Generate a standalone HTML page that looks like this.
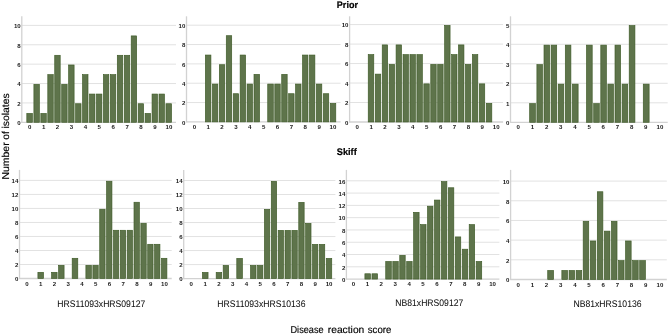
<!DOCTYPE html>
<html><head><meta charset="utf-8"><style>
html,body{margin:0;padding:0;background:#fff;}
svg{display:block;filter:blur(0.35px);}
text{font-family:"Liberation Sans",sans-serif;fill:#1a1a1a;text-rendering:geometricPrecision;}
.yt{text-rendering:auto;font-size:6.1px;text-anchor:end;font-weight:bold;}
.xt{text-rendering:auto;font-size:6.1px;text-anchor:middle;font-weight:bold;}
.lab{font-size:9.6px;fill:#111;stroke:#111;stroke-width:0.05px;}
.ttl{font-size:9.5px;font-weight:bold;stroke:#000;stroke-width:0.2px;fill:#000;}
.ax{font-size:10px;fill:#000;stroke:#000;stroke-width:0.15px;}
</style></head><body>
<svg width="669" height="334" viewBox="0 0 669 334">
<rect width="669" height="334" fill="#fff"/>
<text x="20.7" y="125.1" class="yt">0</text>
<line x1="21.7" y1="102.92" x2="176" y2="102.92" stroke="#e2e2e2" stroke-width="1"/>
<text x="20.7" y="105.72" class="yt">2</text>
<line x1="21.7" y1="83.54" x2="176" y2="83.54" stroke="#e2e2e2" stroke-width="1"/>
<text x="20.7" y="86.34" class="yt">4</text>
<line x1="21.7" y1="64.16" x2="176" y2="64.16" stroke="#e2e2e2" stroke-width="1"/>
<text x="20.7" y="66.96" class="yt">6</text>
<line x1="21.7" y1="44.78" x2="176" y2="44.78" stroke="#e2e2e2" stroke-width="1"/>
<text x="20.7" y="47.58" class="yt">8</text>
<line x1="21.7" y1="25.4" x2="176" y2="25.4" stroke="#e2e2e2" stroke-width="1"/>
<text x="20.7" y="28.2" class="yt">10</text>
<line x1="21.7" y1="122.3" x2="176" y2="122.3" stroke="#d2d2d2" stroke-width="1.3"/>
<line x1="21.8" y1="16.3" x2="21.8" y2="122.9" stroke="#d2d2d2" stroke-width="1.3"/>
<rect x="26.82" y="113.44" width="5.58" height="8.84" fill="#5e744b" stroke="#3d5a26" stroke-width="0.65"/>
<rect x="33.9" y="84.36" width="5.45" height="37.91" fill="#5e744b" stroke="#3d5a26" stroke-width="0.65"/>
<rect x="40.84" y="113.44" width="5.45" height="8.84" fill="#5e744b" stroke="#3d5a26" stroke-width="0.65"/>
<rect x="47.8" y="74.67" width="5.45" height="47.6" fill="#5e744b" stroke="#3d5a26" stroke-width="0.65"/>
<rect x="54.74" y="55.29" width="5.45" height="66.98" fill="#5e744b" stroke="#3d5a26" stroke-width="0.65"/>
<rect x="61.7" y="84.36" width="5.45" height="37.91" fill="#5e744b" stroke="#3d5a26" stroke-width="0.65"/>
<rect x="68.65" y="64.98" width="5.45" height="57.29" fill="#5e744b" stroke="#3d5a26" stroke-width="0.65"/>
<rect x="75.59" y="103.74" width="5.45" height="18.53" fill="#5e744b" stroke="#3d5a26" stroke-width="0.65"/>
<rect x="82.55" y="74.67" width="5.45" height="47.6" fill="#5e744b" stroke="#3d5a26" stroke-width="0.65"/>
<rect x="89.5" y="94.05" width="5.45" height="28.22" fill="#5e744b" stroke="#3d5a26" stroke-width="0.65"/>
<rect x="96.45" y="94.05" width="5.45" height="28.22" fill="#5e744b" stroke="#3d5a26" stroke-width="0.65"/>
<rect x="103.4" y="74.67" width="5.45" height="47.6" fill="#5e744b" stroke="#3d5a26" stroke-width="0.65"/>
<rect x="110.35" y="74.67" width="5.45" height="47.6" fill="#5e744b" stroke="#3d5a26" stroke-width="0.65"/>
<rect x="117.3" y="55.29" width="5.45" height="66.98" fill="#5e744b" stroke="#3d5a26" stroke-width="0.65"/>
<rect x="124.25" y="55.29" width="5.45" height="66.98" fill="#5e744b" stroke="#3d5a26" stroke-width="0.65"/>
<rect x="131.2" y="35.91" width="5.45" height="86.36" fill="#5e744b" stroke="#3d5a26" stroke-width="0.65"/>
<rect x="138.15" y="103.74" width="5.45" height="18.53" fill="#5e744b" stroke="#3d5a26" stroke-width="0.65"/>
<rect x="145.09" y="113.44" width="5.45" height="8.84" fill="#5e744b" stroke="#3d5a26" stroke-width="0.65"/>
<rect x="152.05" y="94.05" width="5.45" height="28.22" fill="#5e744b" stroke="#3d5a26" stroke-width="0.65"/>
<rect x="159" y="94.05" width="5.45" height="28.22" fill="#5e744b" stroke="#3d5a26" stroke-width="0.65"/>
<rect x="165.95" y="103.74" width="5.58" height="18.53" fill="#5e744b" stroke="#3d5a26" stroke-width="0.65"/>
<text x="29.7" y="129.3" class="xt">0</text>
<text x="43.62" y="129.3" class="xt">1</text>
<text x="57.54" y="129.3" class="xt">2</text>
<text x="71.46" y="129.3" class="xt">3</text>
<text x="85.38" y="129.3" class="xt">4</text>
<text x="99.3" y="129.3" class="xt">5</text>
<text x="113.22" y="129.3" class="xt">6</text>
<text x="127.14" y="129.3" class="xt">7</text>
<text x="141.06" y="129.3" class="xt">8</text>
<text x="154.98" y="129.3" class="xt">9</text>
<text x="168.9" y="129.3" class="xt">10</text>
<text x="185.4" y="124.7" class="yt">0</text>
<line x1="186.4" y1="102.56" x2="340.6" y2="102.56" stroke="#e2e2e2" stroke-width="1"/>
<text x="185.4" y="105.36" class="yt">2</text>
<line x1="186.4" y1="83.22" x2="340.6" y2="83.22" stroke="#e2e2e2" stroke-width="1"/>
<text x="185.4" y="86.02" class="yt">4</text>
<line x1="186.4" y1="63.88" x2="340.6" y2="63.88" stroke="#e2e2e2" stroke-width="1"/>
<text x="185.4" y="66.68" class="yt">6</text>
<line x1="186.4" y1="44.54" x2="340.6" y2="44.54" stroke="#e2e2e2" stroke-width="1"/>
<text x="185.4" y="47.34" class="yt">8</text>
<line x1="186.4" y1="25.2" x2="340.6" y2="25.2" stroke="#e2e2e2" stroke-width="1"/>
<text x="185.4" y="28" class="yt">10</text>
<line x1="186.4" y1="121.9" x2="340.6" y2="121.9" stroke="#d2d2d2" stroke-width="1.3"/>
<line x1="186.5" y1="16.3" x2="186.5" y2="122.5" stroke="#d2d2d2" stroke-width="1.3"/>
<rect x="205.37" y="55.04" width="5.55" height="66.84" fill="#5e744b" stroke="#3d5a26" stroke-width="0.65"/>
<rect x="212.42" y="84.05" width="5.43" height="37.83" fill="#5e744b" stroke="#3d5a26" stroke-width="0.65"/>
<rect x="219.35" y="64.71" width="5.43" height="57.17" fill="#5e744b" stroke="#3d5a26" stroke-width="0.65"/>
<rect x="226.28" y="35.7" width="5.43" height="86.18" fill="#5e744b" stroke="#3d5a26" stroke-width="0.65"/>
<rect x="233.22" y="93.72" width="5.43" height="28.16" fill="#5e744b" stroke="#3d5a26" stroke-width="0.65"/>
<rect x="240.14" y="55.04" width="5.43" height="66.84" fill="#5e744b" stroke="#3d5a26" stroke-width="0.65"/>
<rect x="247.07" y="84.05" width="5.43" height="37.83" fill="#5e744b" stroke="#3d5a26" stroke-width="0.65"/>
<rect x="254" y="74.38" width="5.55" height="47.5" fill="#5e744b" stroke="#3d5a26" stroke-width="0.65"/>
<rect x="267.74" y="84.05" width="5.55" height="37.83" fill="#5e744b" stroke="#3d5a26" stroke-width="0.65"/>
<rect x="274.8" y="84.05" width="5.43" height="37.83" fill="#5e744b" stroke="#3d5a26" stroke-width="0.65"/>
<rect x="281.73" y="74.38" width="5.43" height="47.5" fill="#5e744b" stroke="#3d5a26" stroke-width="0.65"/>
<rect x="288.66" y="93.72" width="5.43" height="28.16" fill="#5e744b" stroke="#3d5a26" stroke-width="0.65"/>
<rect x="295.58" y="84.05" width="5.43" height="37.83" fill="#5e744b" stroke="#3d5a26" stroke-width="0.65"/>
<rect x="302.52" y="55.04" width="5.43" height="66.84" fill="#5e744b" stroke="#3d5a26" stroke-width="0.65"/>
<rect x="309.44" y="55.04" width="5.43" height="66.84" fill="#5e744b" stroke="#3d5a26" stroke-width="0.65"/>
<rect x="316.38" y="84.05" width="5.43" height="37.83" fill="#5e744b" stroke="#3d5a26" stroke-width="0.65"/>
<rect x="323.31" y="93.72" width="5.43" height="28.16" fill="#5e744b" stroke="#3d5a26" stroke-width="0.65"/>
<rect x="330.24" y="103.39" width="5.55" height="18.49" fill="#5e744b" stroke="#3d5a26" stroke-width="0.65"/>
<text x="194.35" y="128.9" class="xt">0</text>
<text x="208.21" y="128.9" class="xt">1</text>
<text x="222.07" y="128.9" class="xt">2</text>
<text x="235.93" y="128.9" class="xt">3</text>
<text x="249.79" y="128.9" class="xt">4</text>
<text x="263.65" y="128.9" class="xt">5</text>
<text x="277.51" y="128.9" class="xt">6</text>
<text x="291.37" y="128.9" class="xt">7</text>
<text x="305.23" y="128.9" class="xt">8</text>
<text x="319.09" y="128.9" class="xt">9</text>
<text x="332.95" y="128.9" class="xt">10</text>
<text x="348.5" y="124.8" class="yt">0</text>
<line x1="349.5" y1="102.52" x2="503.1" y2="102.52" stroke="#e2e2e2" stroke-width="1"/>
<text x="348.5" y="105.32" class="yt">2</text>
<line x1="349.5" y1="83.04" x2="503.1" y2="83.04" stroke="#e2e2e2" stroke-width="1"/>
<text x="348.5" y="85.84" class="yt">4</text>
<line x1="349.5" y1="63.56" x2="503.1" y2="63.56" stroke="#e2e2e2" stroke-width="1"/>
<text x="348.5" y="66.36" class="yt">6</text>
<line x1="349.5" y1="44.08" x2="503.1" y2="44.08" stroke="#e2e2e2" stroke-width="1"/>
<text x="348.5" y="46.88" class="yt">8</text>
<line x1="349.5" y1="24.6" x2="503.1" y2="24.6" stroke="#e2e2e2" stroke-width="1"/>
<text x="348.5" y="27.4" class="yt">10</text>
<line x1="349.5" y1="122" x2="503.1" y2="122" stroke="#d2d2d2" stroke-width="1.3"/>
<line x1="349.6" y1="16.3" x2="349.6" y2="122.6" stroke="#d2d2d2" stroke-width="1.3"/>
<rect x="368.23" y="54.64" width="5.56" height="67.33" fill="#5e744b" stroke="#3d5a26" stroke-width="0.65"/>
<rect x="375.29" y="74.12" width="5.43" height="47.85" fill="#5e744b" stroke="#3d5a26" stroke-width="0.65"/>
<rect x="382.22" y="44.91" width="5.43" height="77.07" fill="#5e744b" stroke="#3d5a26" stroke-width="0.65"/>
<rect x="389.16" y="64.39" width="5.43" height="57.59" fill="#5e744b" stroke="#3d5a26" stroke-width="0.65"/>
<rect x="396.09" y="44.91" width="5.43" height="77.07" fill="#5e744b" stroke="#3d5a26" stroke-width="0.65"/>
<rect x="403.03" y="54.64" width="5.43" height="67.33" fill="#5e744b" stroke="#3d5a26" stroke-width="0.65"/>
<rect x="409.96" y="54.64" width="5.43" height="67.33" fill="#5e744b" stroke="#3d5a26" stroke-width="0.65"/>
<rect x="416.9" y="54.64" width="5.43" height="67.33" fill="#5e744b" stroke="#3d5a26" stroke-width="0.65"/>
<rect x="423.83" y="83.86" width="5.43" height="38.11" fill="#5e744b" stroke="#3d5a26" stroke-width="0.65"/>
<rect x="430.77" y="64.39" width="5.43" height="57.59" fill="#5e744b" stroke="#3d5a26" stroke-width="0.65"/>
<rect x="437.7" y="64.39" width="5.43" height="57.59" fill="#5e744b" stroke="#3d5a26" stroke-width="0.65"/>
<rect x="444.64" y="25.42" width="5.43" height="96.55" fill="#5e744b" stroke="#3d5a26" stroke-width="0.65"/>
<rect x="451.57" y="54.64" width="5.43" height="67.33" fill="#5e744b" stroke="#3d5a26" stroke-width="0.65"/>
<rect x="458.51" y="44.91" width="5.43" height="77.07" fill="#5e744b" stroke="#3d5a26" stroke-width="0.65"/>
<rect x="465.44" y="64.39" width="5.43" height="57.59" fill="#5e744b" stroke="#3d5a26" stroke-width="0.65"/>
<rect x="472.38" y="54.64" width="5.43" height="67.33" fill="#5e744b" stroke="#3d5a26" stroke-width="0.65"/>
<rect x="479.31" y="83.86" width="5.43" height="38.11" fill="#5e744b" stroke="#3d5a26" stroke-width="0.65"/>
<rect x="486.25" y="103.34" width="5.56" height="18.63" fill="#5e744b" stroke="#3d5a26" stroke-width="0.65"/>
<text x="357.2" y="129" class="xt">0</text>
<text x="371.1" y="129" class="xt">1</text>
<text x="385" y="129" class="xt">2</text>
<text x="398.9" y="129" class="xt">3</text>
<text x="412.8" y="129" class="xt">4</text>
<text x="426.7" y="129" class="xt">5</text>
<text x="440.6" y="129" class="xt">6</text>
<text x="454.5" y="129" class="xt">7</text>
<text x="468.4" y="129" class="xt">8</text>
<text x="482.3" y="129" class="xt">9</text>
<text x="496.2" y="129" class="xt">10</text>
<text x="509.4" y="125.1" class="yt">0</text>
<line x1="510.4" y1="102.8" x2="667.7" y2="102.8" stroke="#e2e2e2" stroke-width="1"/>
<text x="509.4" y="105.6" class="yt">1</text>
<line x1="510.4" y1="83.3" x2="667.7" y2="83.3" stroke="#e2e2e2" stroke-width="1"/>
<text x="509.4" y="86.1" class="yt">2</text>
<line x1="510.4" y1="63.8" x2="667.7" y2="63.8" stroke="#e2e2e2" stroke-width="1"/>
<text x="509.4" y="66.6" class="yt">3</text>
<line x1="510.4" y1="44.3" x2="667.7" y2="44.3" stroke="#e2e2e2" stroke-width="1"/>
<text x="509.4" y="47.1" class="yt">4</text>
<line x1="510.4" y1="24.8" x2="667.7" y2="24.8" stroke="#e2e2e2" stroke-width="1"/>
<text x="509.4" y="27.6" class="yt">5</text>
<line x1="510.4" y1="122.3" x2="667.7" y2="122.3" stroke="#d2d2d2" stroke-width="1.3"/>
<line x1="510.5" y1="16.3" x2="510.5" y2="122.9" stroke="#d2d2d2" stroke-width="1.3"/>
<rect x="529.68" y="103.62" width="5.72" height="18.65" fill="#5e744b" stroke="#3d5a26" stroke-width="0.65"/>
<rect x="536.9" y="64.62" width="5.6" height="57.65" fill="#5e744b" stroke="#3d5a26" stroke-width="0.65"/>
<rect x="544" y="45.12" width="5.6" height="77.15" fill="#5e744b" stroke="#3d5a26" stroke-width="0.65"/>
<rect x="551.1" y="45.12" width="5.6" height="77.15" fill="#5e744b" stroke="#3d5a26" stroke-width="0.65"/>
<rect x="558.2" y="84.12" width="5.6" height="38.15" fill="#5e744b" stroke="#3d5a26" stroke-width="0.65"/>
<rect x="565.3" y="45.12" width="5.6" height="77.15" fill="#5e744b" stroke="#3d5a26" stroke-width="0.65"/>
<rect x="572.4" y="84.12" width="5.72" height="38.15" fill="#5e744b" stroke="#3d5a26" stroke-width="0.65"/>
<rect x="586.48" y="45.12" width="5.72" height="77.15" fill="#5e744b" stroke="#3d5a26" stroke-width="0.65"/>
<rect x="593.7" y="103.62" width="5.6" height="18.65" fill="#5e744b" stroke="#3d5a26" stroke-width="0.65"/>
<rect x="600.8" y="45.12" width="5.6" height="77.15" fill="#5e744b" stroke="#3d5a26" stroke-width="0.65"/>
<rect x="607.9" y="84.12" width="5.6" height="38.15" fill="#5e744b" stroke="#3d5a26" stroke-width="0.65"/>
<rect x="615" y="45.12" width="5.6" height="77.15" fill="#5e744b" stroke="#3d5a26" stroke-width="0.65"/>
<rect x="622.1" y="84.12" width="5.6" height="38.15" fill="#5e744b" stroke="#3d5a26" stroke-width="0.65"/>
<rect x="629.2" y="25.62" width="5.72" height="96.65" fill="#5e744b" stroke="#3d5a26" stroke-width="0.65"/>
<rect x="643.27" y="84.12" width="5.85" height="38.15" fill="#5e744b" stroke="#3d5a26" stroke-width="0.65"/>
<text x="518.3" y="129.3" class="xt">0</text>
<text x="532.46" y="129.3" class="xt">1</text>
<text x="546.62" y="129.3" class="xt">2</text>
<text x="560.78" y="129.3" class="xt">3</text>
<text x="574.94" y="129.3" class="xt">4</text>
<text x="589.1" y="129.3" class="xt">5</text>
<text x="603.26" y="129.3" class="xt">6</text>
<text x="617.42" y="129.3" class="xt">7</text>
<text x="631.58" y="129.3" class="xt">8</text>
<text x="645.74" y="129.3" class="xt">9</text>
<text x="659.9" y="129.3" class="xt">10</text>
<text x="18.4" y="281.3" class="yt">0</text>
<line x1="19.4" y1="264.49" x2="171.7" y2="264.49" stroke="#e2e2e2" stroke-width="1"/>
<text x="18.4" y="267.29" class="yt">2</text>
<line x1="19.4" y1="250.47" x2="171.7" y2="250.47" stroke="#e2e2e2" stroke-width="1"/>
<text x="18.4" y="253.27" class="yt">4</text>
<line x1="19.4" y1="236.46" x2="171.7" y2="236.46" stroke="#e2e2e2" stroke-width="1"/>
<text x="18.4" y="239.26" class="yt">6</text>
<line x1="19.4" y1="222.44" x2="171.7" y2="222.44" stroke="#e2e2e2" stroke-width="1"/>
<text x="18.4" y="225.24" class="yt">8</text>
<line x1="19.4" y1="208.43" x2="171.7" y2="208.43" stroke="#e2e2e2" stroke-width="1"/>
<text x="18.4" y="211.23" class="yt">10</text>
<line x1="19.4" y1="194.41" x2="171.7" y2="194.41" stroke="#e2e2e2" stroke-width="1"/>
<text x="18.4" y="197.21" class="yt">12</text>
<line x1="19.4" y1="180.4" x2="171.7" y2="180.4" stroke="#e2e2e2" stroke-width="1"/>
<text x="18.4" y="183.2" class="yt">14</text>
<line x1="19.4" y1="278.5" x2="171.7" y2="278.5" stroke="#d2d2d2" stroke-width="1.3"/>
<line x1="19.5" y1="169.9" x2="19.5" y2="279.1" stroke="#d2d2d2" stroke-width="1.3"/>
<rect x="37.91" y="272.32" width="5.61" height="6.16" fill="#5e744b" stroke="#3d5a26" stroke-width="0.65"/>
<rect x="51.62" y="272.32" width="5.48" height="6.16" fill="#5e744b" stroke="#3d5a26" stroke-width="0.65"/>
<rect x="58.6" y="265.31" width="5.48" height="13.16" fill="#5e744b" stroke="#3d5a26" stroke-width="0.65"/>
<rect x="72.18" y="258.3" width="5.61" height="20.17" fill="#5e744b" stroke="#3d5a26" stroke-width="0.65"/>
<rect x="85.89" y="265.31" width="5.48" height="13.16" fill="#5e744b" stroke="#3d5a26" stroke-width="0.65"/>
<rect x="92.87" y="265.31" width="5.36" height="13.16" fill="#5e744b" stroke="#3d5a26" stroke-width="0.65"/>
<rect x="99.73" y="209.25" width="5.36" height="69.22" fill="#5e744b" stroke="#3d5a26" stroke-width="0.65"/>
<rect x="106.58" y="181.22" width="5.36" height="97.25" fill="#5e744b" stroke="#3d5a26" stroke-width="0.65"/>
<rect x="113.44" y="230.27" width="5.36" height="48.2" fill="#5e744b" stroke="#3d5a26" stroke-width="0.65"/>
<rect x="120.29" y="230.27" width="5.36" height="48.2" fill="#5e744b" stroke="#3d5a26" stroke-width="0.65"/>
<rect x="127.15" y="230.27" width="5.36" height="48.2" fill="#5e744b" stroke="#3d5a26" stroke-width="0.65"/>
<rect x="134" y="202.25" width="5.36" height="76.23" fill="#5e744b" stroke="#3d5a26" stroke-width="0.65"/>
<rect x="140.86" y="223.27" width="5.36" height="55.21" fill="#5e744b" stroke="#3d5a26" stroke-width="0.65"/>
<rect x="147.71" y="244.29" width="5.36" height="34.19" fill="#5e744b" stroke="#3d5a26" stroke-width="0.65"/>
<rect x="154.57" y="244.29" width="5.36" height="34.19" fill="#5e744b" stroke="#3d5a26" stroke-width="0.65"/>
<rect x="161.42" y="258.3" width="5.48" height="20.17" fill="#5e744b" stroke="#3d5a26" stroke-width="0.65"/>
<text x="26.9" y="285.5" class="xt">0</text>
<text x="40.65" y="285.5" class="xt">1</text>
<text x="54.4" y="285.5" class="xt">2</text>
<text x="68.15" y="285.5" class="xt">3</text>
<text x="81.9" y="285.5" class="xt">4</text>
<text x="95.65" y="285.5" class="xt">5</text>
<text x="109.4" y="285.5" class="xt">6</text>
<text x="123.15" y="285.5" class="xt">7</text>
<text x="136.9" y="285.5" class="xt">8</text>
<text x="150.65" y="285.5" class="xt">9</text>
<text x="164.4" y="285.5" class="xt">10</text>
<text x="182.6" y="281.4" class="yt">0</text>
<line x1="183.6" y1="264.59" x2="335.4" y2="264.59" stroke="#e2e2e2" stroke-width="1"/>
<text x="182.6" y="267.39" class="yt">2</text>
<line x1="183.6" y1="250.57" x2="335.4" y2="250.57" stroke="#e2e2e2" stroke-width="1"/>
<text x="182.6" y="253.37" class="yt">4</text>
<line x1="183.6" y1="236.56" x2="335.4" y2="236.56" stroke="#e2e2e2" stroke-width="1"/>
<text x="182.6" y="239.36" class="yt">6</text>
<line x1="183.6" y1="222.54" x2="335.4" y2="222.54" stroke="#e2e2e2" stroke-width="1"/>
<text x="182.6" y="225.34" class="yt">8</text>
<line x1="183.6" y1="208.53" x2="335.4" y2="208.53" stroke="#e2e2e2" stroke-width="1"/>
<text x="182.6" y="211.33" class="yt">10</text>
<line x1="183.6" y1="194.51" x2="335.4" y2="194.51" stroke="#e2e2e2" stroke-width="1"/>
<text x="182.6" y="197.31" class="yt">12</text>
<line x1="183.6" y1="180.5" x2="335.4" y2="180.5" stroke="#e2e2e2" stroke-width="1"/>
<text x="182.6" y="183.3" class="yt">14</text>
<line x1="183.6" y1="278.6" x2="335.4" y2="278.6" stroke="#d2d2d2" stroke-width="1.3"/>
<line x1="183.7" y1="169.9" x2="183.7" y2="279.2" stroke="#d2d2d2" stroke-width="1.3"/>
<rect x="202.43" y="272.42" width="5.62" height="6.16" fill="#5e744b" stroke="#3d5a26" stroke-width="0.65"/>
<rect x="216.18" y="272.42" width="5.5" height="6.16" fill="#5e744b" stroke="#3d5a26" stroke-width="0.65"/>
<rect x="223.17" y="265.41" width="5.5" height="13.16" fill="#5e744b" stroke="#3d5a26" stroke-width="0.65"/>
<rect x="236.79" y="258.4" width="5.62" height="20.17" fill="#5e744b" stroke="#3d5a26" stroke-width="0.65"/>
<rect x="250.54" y="265.41" width="5.5" height="13.16" fill="#5e744b" stroke="#3d5a26" stroke-width="0.65"/>
<rect x="257.53" y="265.41" width="5.37" height="13.16" fill="#5e744b" stroke="#3d5a26" stroke-width="0.65"/>
<rect x="264.41" y="209.35" width="5.37" height="69.22" fill="#5e744b" stroke="#3d5a26" stroke-width="0.65"/>
<rect x="271.28" y="181.32" width="5.37" height="97.25" fill="#5e744b" stroke="#3d5a26" stroke-width="0.65"/>
<rect x="278.15" y="230.38" width="5.37" height="48.2" fill="#5e744b" stroke="#3d5a26" stroke-width="0.65"/>
<rect x="285.02" y="230.38" width="5.37" height="48.2" fill="#5e744b" stroke="#3d5a26" stroke-width="0.65"/>
<rect x="291.89" y="230.38" width="5.37" height="48.2" fill="#5e744b" stroke="#3d5a26" stroke-width="0.65"/>
<rect x="298.77" y="202.35" width="5.37" height="76.23" fill="#5e744b" stroke="#3d5a26" stroke-width="0.65"/>
<rect x="305.64" y="223.37" width="5.37" height="55.21" fill="#5e744b" stroke="#3d5a26" stroke-width="0.65"/>
<rect x="312.51" y="244.39" width="5.37" height="34.19" fill="#5e744b" stroke="#3d5a26" stroke-width="0.65"/>
<rect x="319.38" y="244.39" width="5.37" height="34.19" fill="#5e744b" stroke="#3d5a26" stroke-width="0.65"/>
<rect x="326.25" y="258.4" width="5.5" height="20.17" fill="#5e744b" stroke="#3d5a26" stroke-width="0.65"/>
<text x="191.3" y="285.6" class="xt">0</text>
<text x="205.08" y="285.6" class="xt">1</text>
<text x="218.86" y="285.6" class="xt">2</text>
<text x="232.64" y="285.6" class="xt">3</text>
<text x="246.42" y="285.6" class="xt">4</text>
<text x="260.2" y="285.6" class="xt">5</text>
<text x="273.98" y="285.6" class="xt">6</text>
<text x="287.76" y="285.6" class="xt">7</text>
<text x="301.54" y="285.6" class="xt">8</text>
<text x="315.32" y="285.6" class="xt">9</text>
<text x="329.1" y="285.6" class="xt">10</text>
<text x="345.3" y="281.9" class="yt">0</text>
<line x1="346.3" y1="266.81" x2="499.4" y2="266.81" stroke="#e2e2e2" stroke-width="1"/>
<text x="345.3" y="269.61" class="yt">2</text>
<line x1="346.3" y1="254.53" x2="499.4" y2="254.53" stroke="#e2e2e2" stroke-width="1"/>
<text x="345.3" y="257.33" class="yt">4</text>
<line x1="346.3" y1="242.24" x2="499.4" y2="242.24" stroke="#e2e2e2" stroke-width="1"/>
<text x="345.3" y="245.04" class="yt">6</text>
<line x1="346.3" y1="229.95" x2="499.4" y2="229.95" stroke="#e2e2e2" stroke-width="1"/>
<text x="345.3" y="232.75" class="yt">8</text>
<line x1="346.3" y1="217.66" x2="499.4" y2="217.66" stroke="#e2e2e2" stroke-width="1"/>
<text x="345.3" y="220.46" class="yt">10</text>
<line x1="346.3" y1="205.38" x2="499.4" y2="205.38" stroke="#e2e2e2" stroke-width="1"/>
<text x="345.3" y="208.18" class="yt">12</text>
<line x1="346.3" y1="193.09" x2="499.4" y2="193.09" stroke="#e2e2e2" stroke-width="1"/>
<text x="345.3" y="195.89" class="yt">14</text>
<line x1="346.3" y1="180.8" x2="499.4" y2="180.8" stroke="#e2e2e2" stroke-width="1"/>
<text x="345.3" y="183.6" class="yt">16</text>
<line x1="346.3" y1="279.1" x2="499.4" y2="279.1" stroke="#d2d2d2" stroke-width="1.3"/>
<line x1="346.4" y1="169.9" x2="346.4" y2="279.7" stroke="#d2d2d2" stroke-width="1.3"/>
<rect x="364.9" y="273.78" width="5.57" height="5.29" fill="#5e744b" stroke="#3d5a26" stroke-width="0.65"/>
<rect x="371.97" y="273.78" width="5.57" height="5.29" fill="#5e744b" stroke="#3d5a26" stroke-width="0.65"/>
<rect x="385.74" y="261.49" width="5.57" height="17.58" fill="#5e744b" stroke="#3d5a26" stroke-width="0.65"/>
<rect x="392.81" y="261.49" width="5.45" height="17.58" fill="#5e744b" stroke="#3d5a26" stroke-width="0.65"/>
<rect x="399.75" y="255.35" width="5.45" height="23.73" fill="#5e744b" stroke="#3d5a26" stroke-width="0.65"/>
<rect x="406.7" y="261.49" width="5.45" height="17.58" fill="#5e744b" stroke="#3d5a26" stroke-width="0.65"/>
<rect x="413.64" y="212.34" width="5.45" height="66.73" fill="#5e744b" stroke="#3d5a26" stroke-width="0.65"/>
<rect x="420.59" y="224.63" width="5.45" height="54.44" fill="#5e744b" stroke="#3d5a26" stroke-width="0.65"/>
<rect x="427.53" y="206.2" width="5.45" height="72.88" fill="#5e744b" stroke="#3d5a26" stroke-width="0.65"/>
<rect x="434.48" y="200.06" width="5.45" height="79.02" fill="#5e744b" stroke="#3d5a26" stroke-width="0.65"/>
<rect x="441.42" y="181.62" width="5.45" height="97.45" fill="#5e744b" stroke="#3d5a26" stroke-width="0.65"/>
<rect x="448.37" y="187.77" width="5.45" height="91.31" fill="#5e744b" stroke="#3d5a26" stroke-width="0.65"/>
<rect x="455.31" y="236.92" width="5.45" height="42.16" fill="#5e744b" stroke="#3d5a26" stroke-width="0.65"/>
<rect x="462.26" y="249.21" width="5.45" height="29.87" fill="#5e744b" stroke="#3d5a26" stroke-width="0.65"/>
<rect x="469.2" y="224.63" width="5.45" height="54.44" fill="#5e744b" stroke="#3d5a26" stroke-width="0.65"/>
<rect x="476.15" y="261.49" width="5.57" height="17.58" fill="#5e744b" stroke="#3d5a26" stroke-width="0.65"/>
<text x="353.5" y="286.1" class="xt">0</text>
<text x="367.41" y="286.1" class="xt">1</text>
<text x="381.32" y="286.1" class="xt">2</text>
<text x="395.23" y="286.1" class="xt">3</text>
<text x="409.14" y="286.1" class="xt">4</text>
<text x="423.05" y="286.1" class="xt">5</text>
<text x="436.96" y="286.1" class="xt">6</text>
<text x="450.87" y="286.1" class="xt">7</text>
<text x="464.78" y="286.1" class="xt">8</text>
<text x="478.69" y="286.1" class="xt">9</text>
<text x="492.6" y="286.1" class="xt">10</text>
<text x="509.5" y="282.3" class="yt">0</text>
<line x1="510.5" y1="259.82" x2="666.8" y2="259.82" stroke="#e2e2e2" stroke-width="1"/>
<text x="509.5" y="262.62" class="yt">2</text>
<line x1="510.5" y1="240.14" x2="666.8" y2="240.14" stroke="#e2e2e2" stroke-width="1"/>
<text x="509.5" y="242.94" class="yt">4</text>
<line x1="510.5" y1="220.46" x2="666.8" y2="220.46" stroke="#e2e2e2" stroke-width="1"/>
<text x="509.5" y="223.26" class="yt">6</text>
<line x1="510.5" y1="200.78" x2="666.8" y2="200.78" stroke="#e2e2e2" stroke-width="1"/>
<text x="509.5" y="203.58" class="yt">8</text>
<line x1="510.5" y1="181.1" x2="666.8" y2="181.1" stroke="#e2e2e2" stroke-width="1"/>
<text x="509.5" y="183.9" class="yt">10</text>
<line x1="510.5" y1="279.5" x2="666.8" y2="279.5" stroke="#d2d2d2" stroke-width="1.3"/>
<line x1="510.6" y1="169.9" x2="510.6" y2="280.1" stroke="#d2d2d2" stroke-width="1.3"/>
<rect x="547.73" y="270.49" width="5.82" height="8.99" fill="#5e744b" stroke="#3d5a26" stroke-width="0.65"/>
<rect x="561.86" y="270.49" width="5.69" height="8.99" fill="#5e744b" stroke="#3d5a26" stroke-width="0.65"/>
<rect x="569.05" y="270.49" width="5.57" height="8.99" fill="#5e744b" stroke="#3d5a26" stroke-width="0.65"/>
<rect x="576.11" y="270.49" width="5.57" height="8.99" fill="#5e744b" stroke="#3d5a26" stroke-width="0.65"/>
<rect x="583.18" y="221.28" width="5.57" height="58.19" fill="#5e744b" stroke="#3d5a26" stroke-width="0.65"/>
<rect x="590.24" y="240.96" width="5.57" height="38.51" fill="#5e744b" stroke="#3d5a26" stroke-width="0.65"/>
<rect x="597.31" y="191.76" width="5.57" height="87.71" fill="#5e744b" stroke="#3d5a26" stroke-width="0.65"/>
<rect x="604.37" y="231.12" width="5.57" height="48.35" fill="#5e744b" stroke="#3d5a26" stroke-width="0.65"/>
<rect x="611.44" y="221.28" width="5.57" height="58.19" fill="#5e744b" stroke="#3d5a26" stroke-width="0.65"/>
<rect x="618.5" y="260.64" width="5.57" height="18.83" fill="#5e744b" stroke="#3d5a26" stroke-width="0.65"/>
<rect x="625.57" y="240.96" width="5.57" height="38.51" fill="#5e744b" stroke="#3d5a26" stroke-width="0.65"/>
<rect x="632.63" y="260.64" width="5.57" height="18.83" fill="#5e744b" stroke="#3d5a26" stroke-width="0.65"/>
<rect x="639.7" y="260.64" width="5.69" height="18.83" fill="#5e744b" stroke="#3d5a26" stroke-width="0.65"/>
<text x="518.2" y="286.5" class="xt">0</text>
<text x="532.37" y="286.5" class="xt">1</text>
<text x="546.54" y="286.5" class="xt">2</text>
<text x="560.71" y="286.5" class="xt">3</text>
<text x="574.88" y="286.5" class="xt">4</text>
<text x="589.05" y="286.5" class="xt">5</text>
<text x="603.22" y="286.5" class="xt">6</text>
<text x="617.39" y="286.5" class="xt">7</text>
<text x="631.56" y="286.5" class="xt">8</text>
<text x="645.73" y="286.5" class="xt">9</text>
<text x="659.9" y="286.5" class="xt">10</text>
<text x="336.85" y="7.8" class="ttl" textLength="21.1" lengthAdjust="spacingAndGlyphs">Prior</text>
<text x="336.8" y="154.8" class="ttl" textLength="19.95" lengthAdjust="spacingAndGlyphs">Skiff</text>
<text x="290.5" y="332.6" class="ax" textLength="33.1" lengthAdjust="spacingAndGlyphs">Disease</text>
<text x="327.8" y="332.6" class="ax" textLength="36.5" lengthAdjust="spacingAndGlyphs">reaction</text>
<text x="367.75" y="332.6" class="ax" textLength="23.55" lengthAdjust="spacingAndGlyphs">score</text>
<text transform="translate(8.6,179.55) rotate(-90)" x="0" y="0" class="ax" textLength="37.2" lengthAdjust="spacingAndGlyphs">Number</text>
<text transform="translate(8.6,139.8) rotate(-90)" x="0" y="0" class="ax" textLength="8.55" lengthAdjust="spacingAndGlyphs">of</text>
<text transform="translate(8.6,128.55) rotate(-90)" x="0" y="0" class="ax" textLength="35.15" lengthAdjust="spacingAndGlyphs">isolates</text>
<text x="57.3" y="306.5" class="lab" textLength="88" lengthAdjust="spacingAndGlyphs">HRS11093xHRS09127</text>
<text x="217.3" y="306.5" class="lab" textLength="88.15" lengthAdjust="spacingAndGlyphs">HRS11093xHRS10136</text>
<text x="395.3" y="306.3" class="lab" textLength="67.95" lengthAdjust="spacingAndGlyphs">NB81xHRS09127</text>
<text x="573.45" y="306.5" class="lab" textLength="68.1" lengthAdjust="spacingAndGlyphs">NB81xHRS10136</text>
</svg>
</body></html>
